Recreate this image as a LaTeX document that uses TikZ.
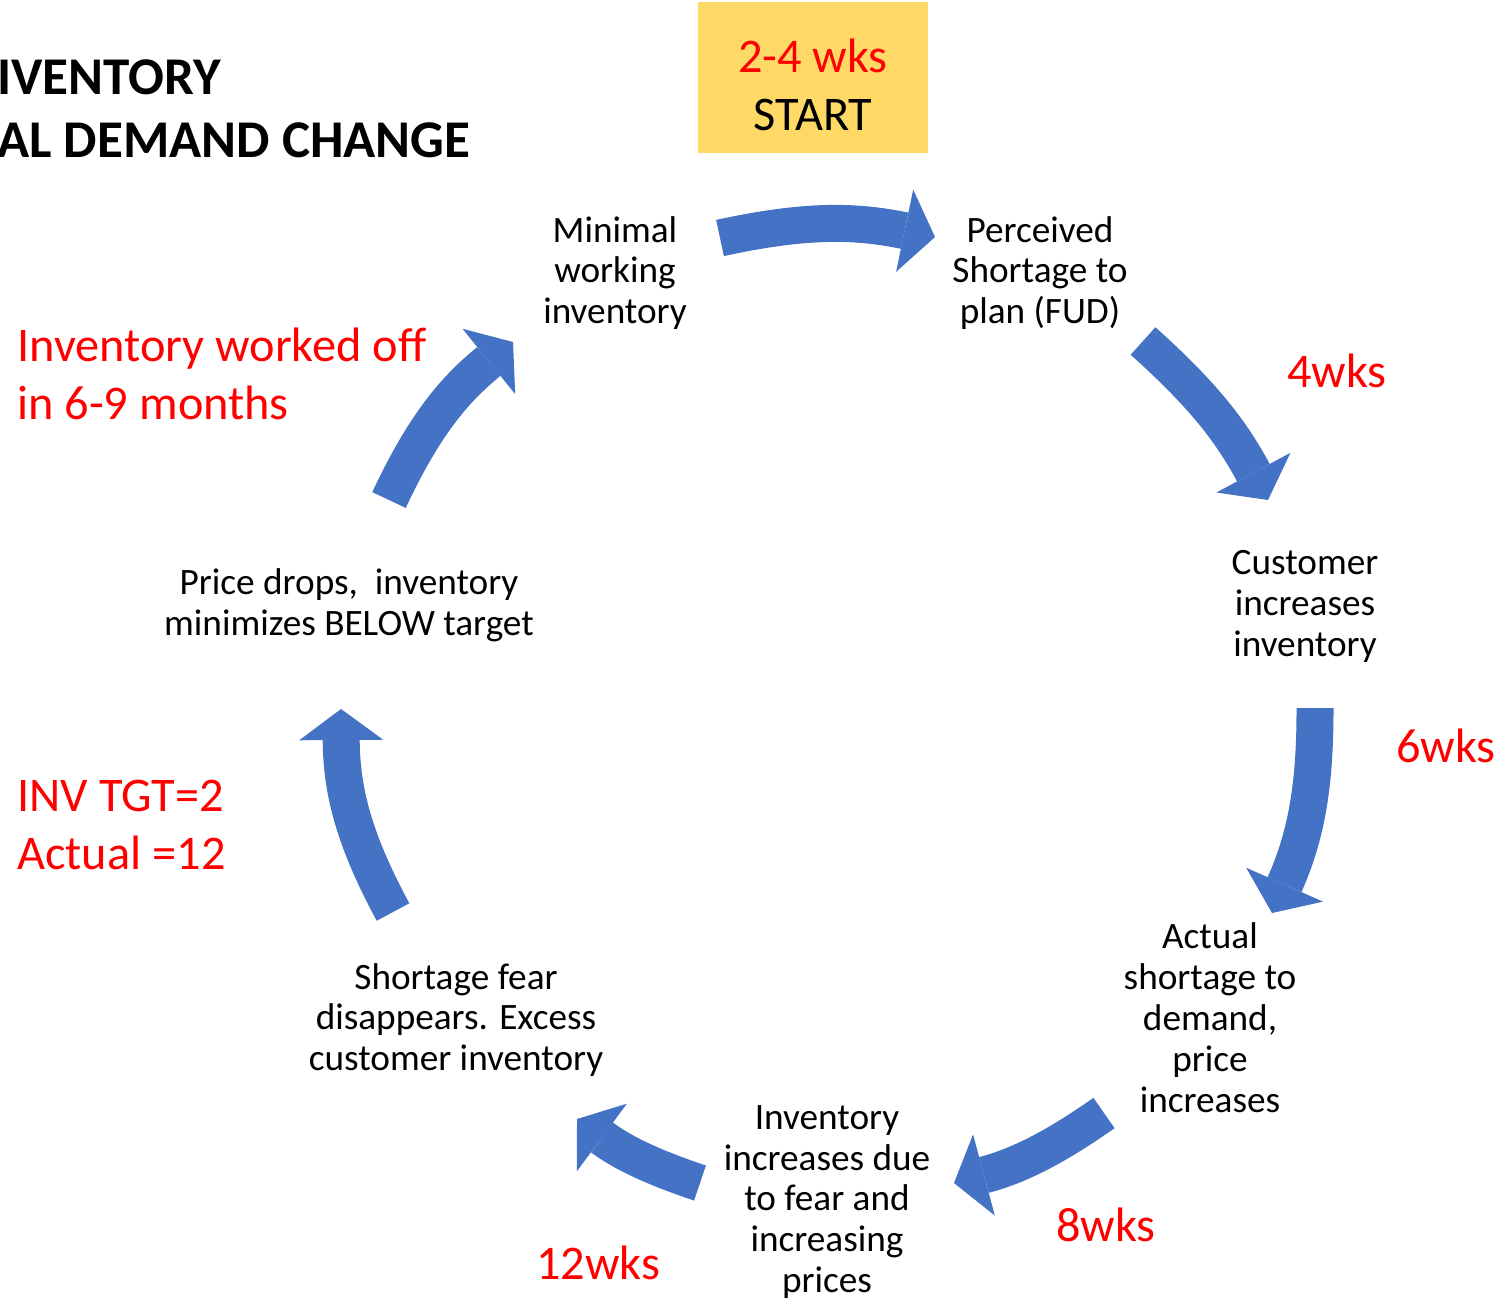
\documentclass[tikz,border=0pt]{standalone}
\usepackage{fontspec}
\setmainfont{Carlito}
\usetikzlibrary{arrows.meta}

\definecolor{flowblue}{HTML}{4472C4}
\definecolor{startgold}{HTML}{FFD966}

\begin{document}
\begin{tikzpicture}[x=0.02cm, y=-0.02cm]
    % settings for this picture
    \tikzset{
      stage/.style={align=center, inner sep=0pt, font=\fontsize{21.2}{23.3}\selectfont},
      delay/.style={text=red, inner sep=0pt, font=\fontsize{27.5}{32.9}\selectfont},
      flow/.style={draw=flowblue, line width=0.74cm,
        -{Triangle[width=1.68cm, length=0.62cm, line width=0pt]}},
    }
    \useasboundingbox (0,0) rectangle (1501,1302);

    % title and start box
    \node[anchor=west, align=left, inner sep=0pt,
          font=\bfseries\fontsize{30.2}{35.7}\selectfont] (title) at (-3,109)
          {IVENTORY\\AL DEMAND CHANGE};
    \node[fill=startgold, minimum width=4.6cm, minimum height=3.02cm] (start) at (813,77.5) {};
    \node[align=center, inner sep=0pt, font=\fontsize{27.5}{32.9}\selectfont] (starttext)
          at (813,84.5) {\textcolor{red}{2-4 wks}\\START};

    % stages
    \node[stage] (minimal) at (615,273) {Minimal\\working\\inventory};
    \node[stage] (perceived) at (1040,273) {Perceived\\Shortage to\\plan (FUD)};
    \node[stage] (customer) at (1305,606) {Customer\\increases\\inventory};
    \node[stage] (actual) at (1210,1018) {Actual\\shortage to\\demand,\\price\\increases};
    \node[stage] (fear) at (827,1202) {Inventory\\increases due\\to fear and\\increasing\\prices};
    \node[stage] (excess) at (456,1020) {Shortage fear\\disappears. Excess\\customer inventory};
    \node[stage] (drops) at (349,605) {Price drops,\ \ inventory\\minimizes BELOW target};

    % delays
    \node[delay] (d4) at (1337,371) {4wks};
    \node[delay] (d6) at (1446,746) {6wks};
    \node[delay] (d8) at (1106,1225) {8wks};
    \node[delay] (d12) at (598,1263) {12wks};
    \node[delay, anchor=west, align=left] (workedoff) at (17,374) {Inventory worked off\\in 6-9 months};
    \node[delay, anchor=west, align=left] (target) at (17,825) {INV TGT=2\\Actual =12};

    % arrow ends
    \coordinate (s1) at (720,238);   \coordinate (e1) at (935,237);
    \coordinate (s2) at (1143,341);  \coordinate (e2) at (1268,500);
    \coordinate (s3) at (1315,708);  \coordinate (e3) at (1272,913);
    \coordinate (s4) at (1104,1113); \coordinate (e4) at (954,1183);
    \coordinate (s5) at (700,1183);  \coordinate (e5) at (577,1119);
    \coordinate (s6) at (393,912);   \coordinate (e6) at (341,709);
    \coordinate (s7) at (389,500);   \coordinate (e7) at (513,342);

    % arrows
    \draw[flow] (s1) to[bend left=12] (e1);
    \draw[flow] (s2) to[bend left=10] (e2);
    \draw[flow] (s3) to[bend left=12] (e3);
    \draw[flow] (s4) to[bend left=10] (e4);
    \draw[flow] (s5) to[bend left=9] (e5);
    \draw[flow] (s6) to[bend left=14] (e6);
    \draw[flow] (s7) to[bend left=13] (e7);

  \end{tikzpicture}
\end{document}
